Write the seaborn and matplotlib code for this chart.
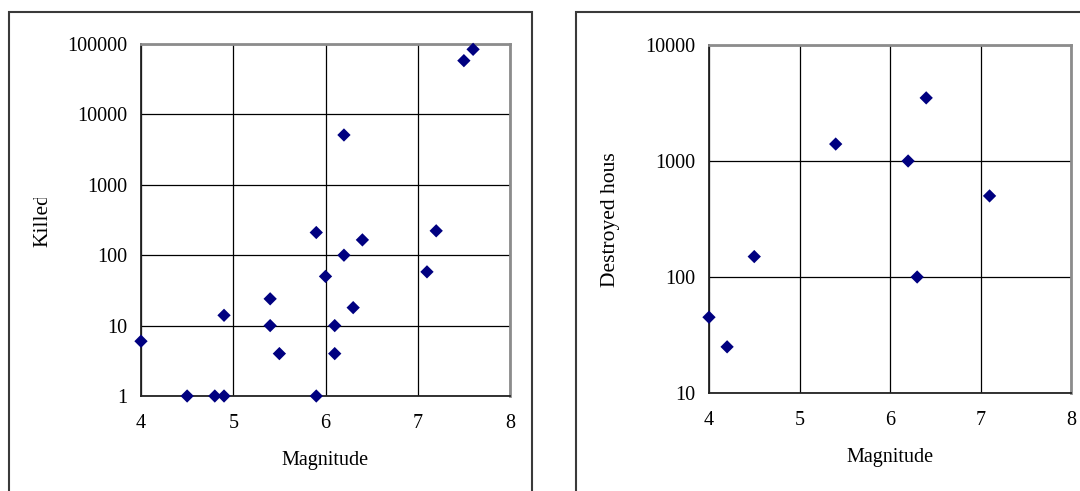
import numpy as np
import pandas as pd
import seaborn as sns
import matplotlib.pyplot as plt
from matplotlib.patches import Rectangle
from matplotlib.transforms import Bbox

# Magnitude vs killed (left panel)
mag_killed = [4.0, 4.5, 4.8, 4.9, 4.9, 5.4, 5.4, 5.5, 5.9, 5.9, 6.0,
              6.1, 6.1, 6.2, 6.2, 6.3, 6.4, 7.1, 7.2, 7.5, 7.6]
killed = [6, 1, 1, 1, 14, 24, 10, 4, 1, 210, 50,
          4, 10, 100, 5100, 18, 165, 58, 222, 58000, 84000]

# Magnitude vs destroyed houses (right panel)
mag_houses = [4.0, 4.2, 4.5, 5.4, 6.2, 6.3, 6.4, 7.1]
houses = [45, 25, 150, 1400, 1000, 100, 3500, 500]

x_ticks = [4, 5, 6, 7, 8]
killed_ticks = [1, 10, 100, 1000, 10000, 100000]
houses_ticks = [10, 100, 1000, 10000]

sns.set_theme(style="white")
plt.rcParams['font.family'] = ['Liberation Serif', 'DejaVu Serif']
FS = 14.5

W, H = 1080, 491
fig = plt.figure(figsize=(W / 100, H / 100), dpi=100)

def px_axes(x0, y0, x1, y1):
    return fig.add_axes([x0 / W, 1 - y1 / H, (x1 - x0) / W, (y1 - y0) / H])

ax1 = px_axes(141, 44, 510, 396)
ax2 = px_axes(709, 45, 1071, 393)

df1 = pd.DataFrame({"Magnitude": mag_killed, "Killed": killed})
df2 = pd.DataFrame({"Magnitude": mag_houses, "Destroyed houses": houses})

sns.scatterplot(data=df1, x="Magnitude", y="Killed", marker="D", s=46,
                color="#000080", edgecolor="none", ax=ax1, zorder=5, clip_on=False)
sns.scatterplot(data=df2, x="Magnitude", y="Destroyed houses", marker="D", s=46,
                color="#000080", edgecolor="none", ax=ax2, zorder=5, clip_on=False)

for ax, yt in [(ax1, killed_ticks), (ax2, houses_ticks)]:
    ax.set_yscale("log")
    ax.set_xlim(4, 8)
    ax.set_ylim(yt[0], yt[-1])
    ax.set_xticks(x_ticks)
    ax.set_xticklabels([str(t) for t in x_ticks])
    ax.set_yticks(yt)
    ax.set_yticklabels([str(t) for t in yt])
    ax.minorticks_off()
    ax.grid(True, color="black", linewidth=0.9)
    ax.set_axisbelow(True)
    for side in ["left", "bottom"]:
        ax.spines[side].set_color("#222222")
        ax.spines[side].set_linewidth(1.3)
    for side in ["top", "right"]:
        ax.spines[side].set_color("#8c8c8c")
        ax.spines[side].set_linewidth(2)
    ax.tick_params(axis="y", direction="out", length=4, width=1, color="#222222",
                   pad=6, labelsize=FS, labelcolor="black")
    ax.tick_params(axis="x", direction="in", length=5, width=1, color="#222222",
                   pad=13, labelsize=FS, labelcolor="black")
    ax.set_xlabel("Magnitude", fontsize=FS, labelpad=13, color="black")
    ax.set_ylabel("")

# y labels, cut off at the top like the original
def clipped_ylabel(text, xc, y_bottom, clip_top):
    t = fig.text(xc / W, 1 - y_bottom / H, text, rotation=90, ha="center",
                 va="bottom", fontsize=15.5, color="black")
    t.set_clip_box(Bbox([[0, 0], [W, H - clip_top]]))
    t.set_clip_on(True)

clipped_ylabel("Killed", 43, 247, 198)
clipped_ylabel("Destroyed houses", 610, 287, 153)

# outer chart borders
for x0, x1 in [(9, 532), (576, 1090)]:
    fig.patches.append(Rectangle((x0 / W, -0.05), (x1 - x0) / W, 1.05 - 12 / H,
                                 transform=fig.transFigure, fill=False,
                                 edgecolor="#3a3a3a", linewidth=1.5))

fig.savefig("out.png", dpi=100)
